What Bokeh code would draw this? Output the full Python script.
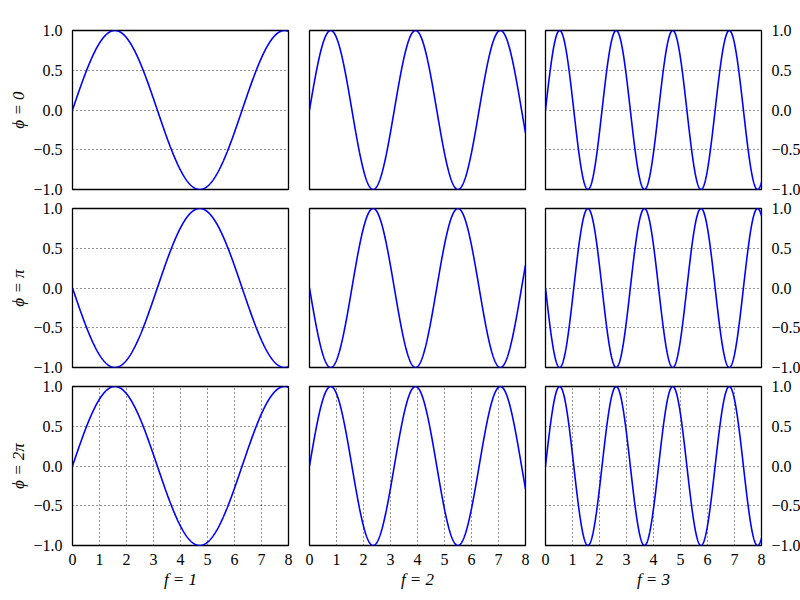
import numpy as np
from bokeh.plotting import figure
from bokeh.models import Range1d, FixedTicker
from bokeh.layouts import column, row
from bokeh.embed import file_html
from bokeh.resources import INLINE

# Parameters of the panels: y = sin(f * x + phi)
frequencies = [1, 2, 3]
freq_labels = ["f = 1", "f = 2", "f = 3"]
phases = [0.0, np.pi, 2 * np.pi]
phase_labels = ["ϕ = 0", "ϕ = π", "ϕ = 2π"]
x_min, x_max = 0.0, 8.0
x_ticks = [0, 1, 2, 3, 4, 5, 6, 7, 8]
y_ticks = [-1.0, -0.5, 0.0, 0.5, 1.0]
y_tick_labels = ["−1.0", "−0.5", "0.0", "0.5", "1.0"]

x = np.linspace(x_min, x_max, 800)

FONT = "Liberation Serif"
FRAME_W, FRAME_H = 216, 159

rows = []
for ri, (phi, plab) in enumerate(zip(phases, phase_labels)):
    figs = []
    for ci, (f, flab) in enumerate(zip(frequencies, freq_labels)):
        is_left = ci == 0
        is_right = ci == 2
        is_bottom = ri == 2
        p = figure(
            frame_width=FRAME_W, frame_height=FRAME_H,
            x_range=Range1d(x_min, x_max), y_range=Range1d(-1, 1),
            output_backend="svg", toolbar_location=None,
            y_axis_location="right" if is_right else "left",
            min_border_left=72 if is_left else (11 if ci == 1 else 10),
            min_border_right=36 if is_right else 10,
            min_border_top=30 if ri == 0 else 10,
            min_border_bottom=50 if is_bottom else 9,
        )
        p.background_fill_color = "white"
        p.border_fill_color = "white"
        p.outline_line_color = "black"
        p.outline_line_width = 1.3

        y = np.sin(f * x + phi)
        p.line(x, y, line_color="#0000ff", line_width=1.6)

        p.xaxis.ticker = FixedTicker(ticks=x_ticks)
        p.yaxis.ticker = FixedTicker(ticks=y_ticks)
        p.yaxis.major_label_overrides = {t: s for t, s in zip(y_ticks, y_tick_labels)}

        for ax in p.xaxis + p.yaxis:
            ax.axis_line_color = None
            ax.major_tick_line_color = None
            ax.minor_tick_line_color = None
            ax.major_label_text_font = FONT
            ax.major_label_text_font_size = "16px"
            ax.major_label_text_color = "black"
            ax.major_label_standoff = 4
            ax.axis_label_text_font = FONT
            ax.axis_label_text_font_size = "17px"
            ax.axis_label_text_font_style = "italic"
            ax.axis_label_text_color = "black"
            ax.axis_label_standoff = 2

        p.xaxis.major_label_standoff = 2
        p.xaxis.visible = is_bottom
        p.yaxis.visible = is_left or is_right
        if is_bottom:
            p.xaxis.axis_label = flab
        if is_left:
            p.yaxis.axis_label = plab

        for g, show in ((p.xgrid, is_bottom), (p.ygrid, is_left or is_right)):
            g.visible = show
            g.grid_line_color = "black"
            g.grid_line_width = 1
            g.grid_line_alpha = 0.85
            g.grid_line_dash = "1 3"
        figs.append(p)
    rows.append(row(*figs))

layout = column(*rows)
open("out.html", "w").write(file_html(layout, INLINE))
